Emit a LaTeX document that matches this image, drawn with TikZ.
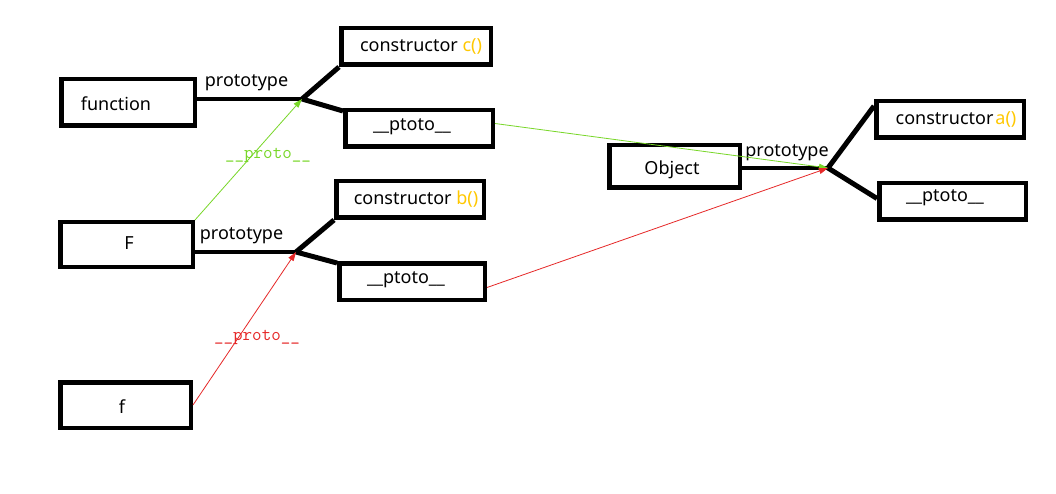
\documentclass[tikz,border=0pt]{standalone}
\usepackage{fontspec}
\setmainfont{Noto Sans}
\usetikzlibrary{arrows.meta,calc}
\definecolor{lgreen}{RGB}{120,215,40}
\definecolor{lred}{RGB}{230,40,40}
\definecolor{gold}{RGB}{255,200,0}
\begin{document}
\begin{tikzpicture}[x=1pt,y=-1pt,
  box/.style={draw=black,line width=4.5pt,inner sep=0pt,minimum width=#1},
  box/.default=130pt,
  txt/.style={font=\fontsize{18}{20}\selectfont,inner sep=0pt},
  mono/.style={font=\ttfamily\fontsize{18.5}{20}\selectfont,inner sep=0pt},
  proto/.style={line width=4pt},
  branch/.style={line width=5pt},
  garrow/.style={draw=lgreen,line width=0.8pt,-{Triangle[length=9pt,width=6pt]}},
  rarrow/.style={draw=lred,line width=0.8pt,-{Triangle[length=9pt,width=6pt]}}]
\useasboundingbox[fill=white] (0,0) rectangle (1056,494);
% boxes
\node[box=133.5pt,minimum height=46.5pt] (function) at (128,102.5) {};
\node[box=149.5pt,minimum height=36.5pt] (conc) at (416,46.5) {};
\node[box=147.5pt,minimum height=36.5pt] (pt1) at (419,128.5) {};
\node[box=132.5pt,minimum height=44.5pt] (F) at (126.5,244.5) {};
\node[box=147.5pt,minimum height=36.5pt] (conb) at (410,199.5) {};
\node[box=145.5pt,minimum height=36.5pt] (pt2) at (412,281.5) {};
\node[box=130.5pt,minimum height=45.5pt] (f) at (125.5,405) {};
\node[box=130.5pt,minimum height=42.5pt] (Object) at (674.5,166.5) {};
\node[box=147.5pt,minimum height=36.5pt] (cona) at (950,119.5) {};
\node[box=146.5pt,minimum height=36.5pt] (pt3) at (952.5,201.5) {};
% texts
\node[txt] (tfunction) at (116,104) {function};
\node[txt] (tconc) at (421,46) {constructor \textcolor{gold}{c()}};
\node[txt] (tpt1) at (412,127) {\_\_ptoto\_\_};
\node[txt] (tF) at (129,243) {F};
\node[txt] (tconb) at (416,199) {constructor \textcolor{gold}{b()}};
\node[txt] (tpt2) at (406,280) {\_\_ptoto\_\_};
\node[txt] (tf) at (122,407) {f};
\node[txt] (tObject) at (672,170) {Object};
\node[txt] (tcona) at (956,119) {constructor\kern2pt\textcolor{gold}{a()}};
\node[txt] (tpt3) at (945,198) {\_\_ptoto\_\_};
% junctions
\coordinate (j1) at (302,99);
\coordinate (j2) at (296,252);
\coordinate (j3) at (828,168);
% prototype links
\draw[proto] (function.east |- j1) -- node[txt,above=6pt,xshift=-3pt] (p1) {prototype} (j1);
\draw[branch] (j1) -- (conc.south west);
\draw[branch] (j1) -- ([yshift=-3pt]pt1.north west);
\draw[proto] (F.east |- j2) -- node[txt,above=6pt,xshift=-4pt] (p2) {prototype} (j2);
\draw[branch] (j2) -- (conb.south west);
\draw[branch] (j2) -- ([yshift=-2pt]pt2.north west);
\draw[proto] (Object.east |- j3) -- node[txt,above=5pt,xshift=2pt] (p3) {prototype} (j3);
\draw[branch] (j3) -- ([yshift=-7pt]cona.north west);
\draw[branch] (j3) -- ([yshift=3pt]pt3.west);
% __proto__ links
\draw[garrow] (F.north east) -- (j1);
\draw[garrow] ([yshift=5pt]pt1.east) -- (j3);
\draw[rarrow] (f.east) -- (j2);
\draw[rarrow] ([yshift=-6pt]pt2.east) -- (j3);
\node[mono,text=lgreen] (lg) at (268,155) {\_\_proto\_\_};
\node[mono,text=lred] (lr) at (257,337) {\_\_proto\_\_};
\end{tikzpicture}
\end{document}
